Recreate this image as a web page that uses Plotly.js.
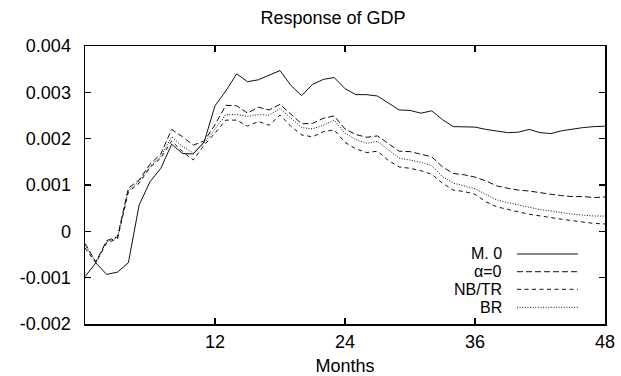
<!DOCTYPE html>
<html>
<head>
<meta charset="utf-8">
<script src="https://cdn.plot.ly/plotly-3.0.1.min.js"></script>
<style>html,body{margin:0;padding:0;background:#fff;}</style>
</head>
<body>
<div id="chart" style="width:621px;height:376px;"></div>
<script>
const months = Array.from({length: 49}, (_, i) => i);
const seriesNames = ["M. 0", "\u03b1=0", "NB/TR", "BR"];
const m0 = [-0.00098,-0.00068,-0.00093,-0.00088,-0.00068,0.00057,0.00107,0.00136,0.00188,0.00168,0.00167,0.00193,
  0.00271,0.00303,0.0034,0.00323,0.00327,0.00337,0.00347,0.00315,0.00293,0.00317,0.00328,0.00332,
  0.00308,0.00295,0.00295,0.00292,0.00277,0.00262,0.00261,0.00255,0.0026,0.00241,0.00226,0.00226,
  0.00225,0.0022,0.00217,0.00213,0.00214,0.0022,0.00213,0.00211,0.00217,0.00221,0.00224,0.00226,0.00227];
const alpha0 = [-0.00026,-0.00066,-0.0002,-0.00012,0.00093,0.00111,0.00145,0.00167,0.0022,0.00204,0.00186,0.00195,
  0.0023,0.00272,0.00271,0.00255,0.00268,0.00262,0.00274,0.00252,0.00232,0.00233,0.00244,0.00249,
  0.00221,0.00209,0.00203,0.00206,0.00189,0.00173,0.00172,0.00167,0.00161,0.00139,0.00125,0.00122,
  0.00117,0.00109,0.00098,0.00093,0.00089,0.00087,0.00083,0.0008,0.00077,0.00075,0.00075,0.00073,0.00074];
const nbtr = [-0.00036,-0.00068,-0.00025,-0.00016,0.00085,0.00104,0.00138,0.00158,0.00195,0.00172,0.00154,0.00186,
  0.00212,0.0024,0.0024,0.00227,0.00237,0.00229,0.00251,0.00227,0.00208,0.00204,0.00215,0.00219,
  0.00192,0.00178,0.0017,0.00173,0.00153,0.00139,0.00136,0.00131,0.00123,0.00104,0.00089,0.00086,
  0.0008,0.00064,0.00053,0.00047,0.00042,0.00037,0.00033,0.00029,0.00026,0.00023,0.0002,0.00017,0.00016];
const br = [-0.0003,-0.00067,-0.00022,-0.00014,0.00088,0.00108,0.0014,0.00162,0.00204,0.00183,0.00169,0.0019,
  0.00221,0.00252,0.00252,0.00248,0.00252,0.00251,0.00265,0.00244,0.00224,0.00221,0.00229,0.0024,
  0.00212,0.00198,0.0019,0.00194,0.00175,0.00158,0.00154,0.00149,0.00142,0.00118,0.00104,0.00098,
  0.00092,0.0008,0.00068,0.00062,0.00057,0.00052,0.00047,0.00044,0.0004,0.00037,0.00035,0.00033,0.00033];
const xTickVals = [12, 24, 36, 48];
const xTickText = ["12", "24", "36", "48"];
const yTickVals = [-0.002, -0.001, 0, 0.001, 0.002, 0.003, 0.004];
const yTickText = ["-0.002", "-0.001", "0", "0.001", "0.002", "0.003", "0.004"];

const allSeries = [m0, alpha0, nbtr, br];
const dashes = ["solid", "6px,3px", "4px,3.5px", "1px,1.6px"];
const FONT = "Liberation Sans, Arial, Helvetica, sans-serif";

const traces = allSeries.map((ys, i) => ({
  x: months, y: ys, type: "scatter", mode: "lines", name: seriesNames[i],
  line: {color: "#111", width: 1, dash: dashes[i]}, showlegend: false, hoverinfo: "skip"
}));

// legend (text right-aligned, sample line to the right)
const rowsY = [0.2518, 0.1881, 0.1248, 0.0601];
const annotations = seriesNames.map((n, i) => ({
  xref: "paper", yref: "paper", x: 0.8038, y: rowsY[i], xanchor: "right", yanchor: "middle",
  text: n, showarrow: false, borderpad: 0, font: {family: FONT, size: 16, color: "#000"}
}));
const shapes = seriesNames.map((n, i) => ({
  type: "line", xref: "paper", yref: "paper", x0: 0.8308, x1: 0.948, y0: rowsY[i], y1: rowsY[i],
  line: {color: "#111", width: 1, dash: dashes[i]}
}));

const layout = {
  width: 621, height: 376,
  margin: {l: 85, r: 16, t: 46, b: 52},
  paper_bgcolor: "#fff", plot_bgcolor: "#fff",
  font: {family: FONT, size: 18, color: "#000"},
  title: {text: "Response of GDP", x: 333/621, xref: "container", xanchor: "center",
          y: 1 - 18/376, yref: "container", yanchor: "middle", font: {family: FONT, size: 18, color: "#000"}},
  xaxis: {
    range: [0, 48], tickvals: xTickVals, ticktext: xTickText,
    showgrid: false, zeroline: false, showline: true, linecolor: "#000", linewidth: 1.5,
    mirror: "ticks", ticks: "inside", ticklen: 6, tickwidth: 1.5, tickcolor: "#000",
    ticklabelstandoff: 1,
    tickfont: {family: FONT, size: 18, color: "#000"},
    title: {text: "Months", standoff: 14, font: {family: FONT, size: 18, color: "#000"}}
  },
  yaxis: {
    range: [-0.002, 0.004], tickvals: yTickVals, ticktext: yTickText,
    showgrid: false, zeroline: false, showline: true, linecolor: "#000", linewidth: 1.5,
    mirror: "ticks", ticks: "inside", ticklen: 6, tickwidth: 1.5, tickcolor: "#000",
    ticklabelstandoff: 9,
    tickfont: {family: FONT, size: 18, color: "#000"}
  },
  annotations: annotations,
  shapes: shapes,
  showlegend: false
};

Plotly.newPlot("chart", traces, layout, {displayModeBar: false, staticPlot: true});
</script>
</body>
</html>
